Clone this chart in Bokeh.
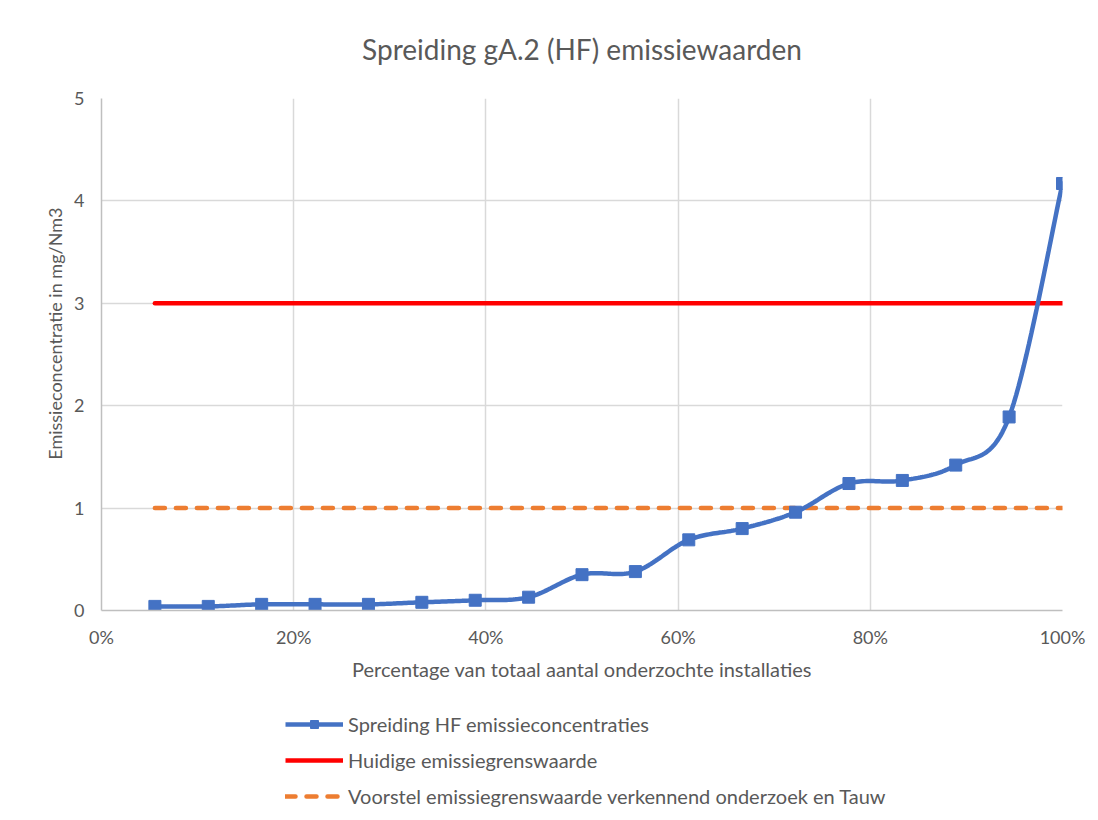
import numpy as np
from bokeh.plotting import figure
from bokeh.layouts import column
from bokeh.models import (Range1d, NumeralTickFormatter, FixedTicker, Legend, LegendItem, Title)
from bokeh.embed import file_html
from bokeh.resources import INLINE

# ---- data ----
x_share = [1/18, 2/18, 3/18, 4/18, 5/18, 6/18, 7/18, 8/18, 9/18,
           10/18, 11/18, 12/18, 13/18, 14/18, 15/18, 16/18, 17/18, 18/18]
hf_values = [0.04, 0.04, 0.06, 0.06, 0.06, 0.08, 0.10, 0.13, 0.35,
             0.38, 0.69, 0.80, 0.96, 1.24, 1.27, 1.42, 1.89, 4.17]
current_limit = [3, 3]
proposed_limit = [1, 1]
limit_x = [x_share[0], x_share[-1]]
x_ticks = [0, 0.2, 0.4, 0.6, 0.8, 1.0]
y_ticks = [0, 1, 2, 3, 4, 5]

title_txt = "Spreiding gA.2 (HF) emissiewaarden"
x_label = "Percentage van totaal aantal onderzochte installaties"
y_label = "Emissieconcentratie in mg/Nm3"
leg_labels = ["Spreiding HF emissieconcentraties", "Huidige emissiegrenswaarde",
              "Voorstel emissiegrenswaarde verkennend onderzoek en Tauw"]

FONT = "Lato"
GREY = "#595959"
BLUE, RED, ORANGE = "#4472C4", "#FF0000", "#ED7D31"

# smoothed line (Catmull-Rom through the data points, like Excel's smoothing)
def smooth(xs, ys, n=24):
    xs = np.asarray(xs, float); ys = np.asarray(ys, float)
    px = np.concatenate([[xs[0]], xs, [xs[-1]]])
    py = np.concatenate([[ys[0]], ys, [ys[-1]]])
    ox, oy = [], []
    for i in range(1, len(px) - 2):
        t = np.linspace(0, 1, n, endpoint=False)
        for arr, out in ((px, ox), (py, oy)):
            p0, p1, p2, p3 = arr[i-1], arr[i], arr[i+1], arr[i+2]
            out.extend(0.5 * ((2*p1) + (-p0 + p2)*t + (2*p0 - 5*p1 + 4*p2 - p3)*t**2
                              + (-p0 + 3*p1 - 3*p2 + p3)*t**3))
    ox.append(xs[-1]); oy.append(ys[-1])
    return ox, oy

sx, sy = smooth(x_share, hf_values)

W = 1095
p = figure(width=W, height=690, output_backend="svg", toolbar_location=None,
           x_range=Range1d(0, 1), y_range=Range1d(0, 5),
           min_border_left=101, min_border_top=97, min_border_right=33,
           min_border_bottom=80)
p.outline_line_color = None
p.border_fill_color = "white"

p.title.text = title_txt
p.title.text_font = FONT
p.title.text_font_size = "28px"
p.title.text_font_style = "normal"
p.title.text_color = GREY
p.title.align = "center"
p.title.vertical_align = "top"
p.title.standoff = 62

for ax in (p.xaxis[0], p.yaxis[0]):
    ax.axis_line_color = "#BFBFBF"
    ax.axis_line_width = 1.5
    ax.major_tick_line_color = None
    ax.minor_tick_line_color = None
    ax.major_label_text_font = FONT
    ax.major_label_text_font_size = "18px"
    ax.major_label_text_color = GREY
    ax.axis_label_text_font = FONT
    ax.axis_label_text_font_size = "20px"
    ax.axis_label_text_font_style = "normal"
    ax.axis_label_text_color = GREY

p.xaxis.ticker = FixedTicker(ticks=x_ticks)
p.xaxis.formatter = NumeralTickFormatter(format="0%")
p.xaxis.major_label_standoff = 9
p.xaxis.axis_label = x_label
p.xaxis.axis_label_standoff = 6
p.yaxis.ticker = FixedTicker(ticks=y_ticks)
p.yaxis.major_label_standoff = 11

ytitle = Title(text=y_label, align="right", offset=109, standoff=12,
               text_font=FONT, text_font_size="18px", text_font_style="normal",
               text_color=GREY)
p.add_layout(ytitle, "left")

p.xgrid.grid_line_color = "#D9D9D9"
p.ygrid.grid_line_color = "#D9D9D9"
p.xgrid.grid_line_width = 1.5
p.ygrid.grid_line_width = 1.5

p.line(limit_x, current_limit, color=RED, line_width=4.5, line_cap="round")
p.line(limit_x, proposed_limit, color=ORANGE, line_width=4.5, line_dash="10 11",
       line_cap="round")
p.line(sx, sy, color=BLUE, line_width=4.5, line_cap="round")
p.scatter(x_share, hf_values, marker="square", size=12, color=BLUE)

# ---- legend panel below the chart (same series, plotted out of view) ----
q = figure(width=W, height=130, output_backend="svg", toolbar_location=None,
           x_range=Range1d(0, 1), y_range=Range1d(100, 101),
           x_axis_type=None, y_axis_type=None,
           min_border_left=0, min_border_right=0, min_border_top=0, min_border_bottom=0)
q.outline_line_color = None
q.xgrid.visible = False
q.ygrid.visible = False
l_blue = q.line(x_share, hf_values, color=BLUE, line_width=4.5)
l_pts = q.scatter(x_share, hf_values, marker="square", size=11, color=BLUE)
l_red = q.line(limit_x, current_limit, color=RED, line_width=4.5)
l_or = q.line(limit_x, proposed_limit, color=ORANGE, line_width=4.5, line_dash="10 11",
              line_cap="round")

legend = Legend(items=[LegendItem(label=leg_labels[0], renderers=[l_blue, l_pts]),
                       LegendItem(label=leg_labels[1], renderers=[l_red]),
                       LegendItem(label=leg_labels[2], renderers=[l_or])],
                orientation="vertical", location=(184, 12))
legend.border_line_color = None
legend.background_fill_alpha = 0
legend.padding = 6
legend.margin = 0
legend.label_text_font = FONT
legend.label_text_font_size = "20px"
legend.label_text_color = GREY
legend.glyph_width = 58
legend.spacing = 12
legend.label_standoff = 5
q.add_layout(legend, "center")

layout = column(p, q, spacing=0)
open("out.html", "w").write(file_html(layout, INLINE))
